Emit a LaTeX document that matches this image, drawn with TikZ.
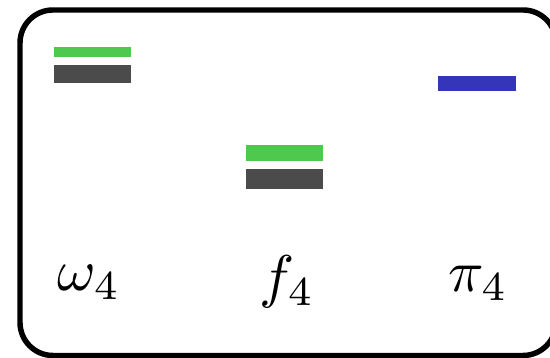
\documentclass[tikz,border=0pt]{standalone}
\usepackage{amsmath,amssymb}
\usepackage{xcolor}
\usepackage{tikz}
\definecolor{levelgreen}{HTML}{4EC94E}
\definecolor{levelgrey}{HTML}{4B4B4B}
\definecolor{levelblue}{HTML}{3535B9}

\begin{document}
\begin{tikzpicture}[x=0.17pt, y=-0.17pt]
\useasboundingbox (0,0) rectangle (550,358);
\clip (0,0) rectangle (550,358);
\draw[line width=0.93pt, rounded corners=5.6pt] (20,10) rectangle (556,355.5);
% omega levels
\fill[levelgreen] (54,47) rectangle (131,57.5);
\fill[levelgrey] (54,65) rectangle (131,82.7);
% f levels
\fill[levelgreen] (246,145) rectangle (323,160.7);
\fill[levelgrey] (246,169.3) rectangle (323,188.7);
% pi level
\fill[levelblue] (438,76) rectangle (516,90.7);
\node[anchor=base] (w4) at (89,291) {$\omega_4$};
\node[anchor=base] (f4) at (287,297) {$f_4$};
\node[anchor=base] (p4) at (478,292) {$\pi_4$};
\end{tikzpicture}
\end{document}
